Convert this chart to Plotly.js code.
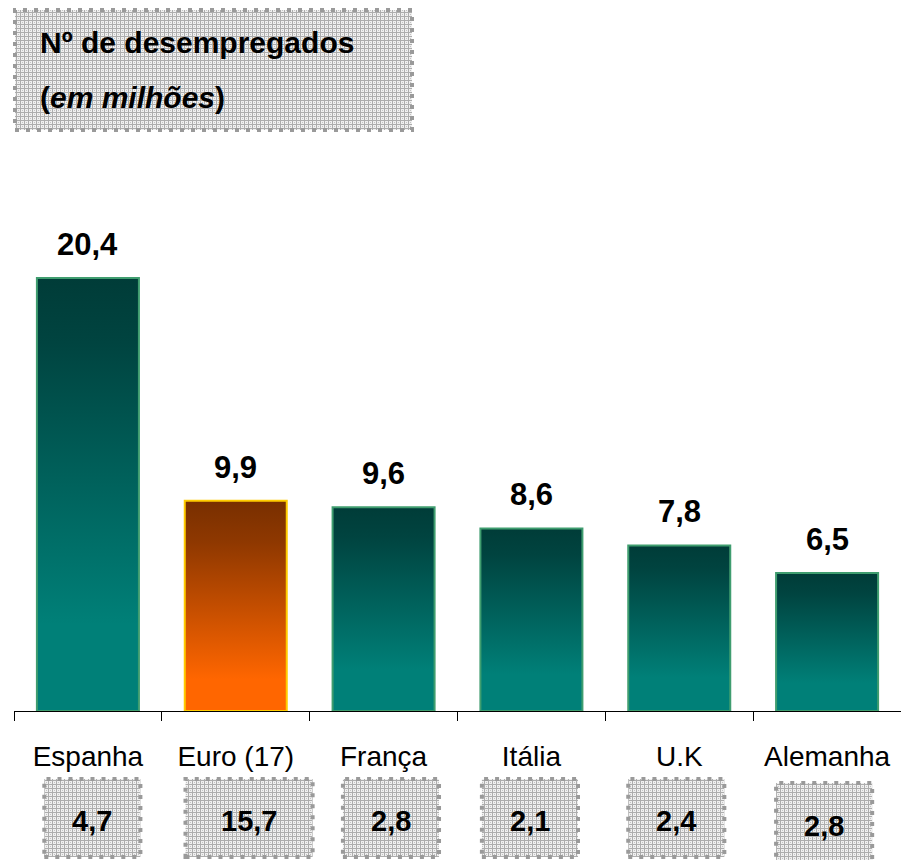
<!DOCTYPE html>
<html><head><meta charset="utf-8">
<script src="https://cdn.plot.ly/plotly-3.0.1.min.js"></script>
<style>html,body{margin:0;padding:0;background:#fff}#chart{width:901px;height:860px}</style>
</head><body><div id="chart"></div>
<script>
// ---- data ----
const paises = ['Espanha', 'Euro (17)', 'França', 'Itália', 'U.K', 'Alemanha'];
const taxaDesemprego = [20.4, 9.9, 9.6, 8.6, 7.8, 6.5];          // bar values (%)
const desempregadosMilhoes = [4.7, 15.7, 2.8, 2.1, 2.4, 2.8];    // boxed values (millions)
const tituloLinha1 = 'Nº de desempregados';
const tituloLinha2 = 'em milhões';
const destaque = 'Euro (17)';

// ---- layout helpers (pixel -> paper) ----
const W = 901, H = 860, ML = 14, MR = 0, MT = 150, MB = 149;
const PW = W - ML - MR, PH = H - MT - MB;
const px = x => (x - ML) / PW;
const py = y => (H - MB - y) / PH;
const fmt = v => v.toFixed(1).replace('.', ',');
const FONT = 'Liberation Sans, Arial, sans-serif';

const isHi = paises.map(p => p === destaque);

const trace = {
  type: 'bar',
  x: paises,
  y: taxaDesemprego,
  marker: {
    color: isHi.map(h => h ? '#ff6600' : '#008080'),
    line: { color: isHi.map(h => h ? '#ffcc00' : '#3f9d6f'), width: 2 }
  },
  hoverinfo: 'none'
};

const annotations = [];
// bar value labels
paises.forEach((p, i) => {
  annotations.push({
    x: p, y: taxaDesemprego[i], xref: 'x', yref: 'y',
    text: fmt(taxaDesemprego[i]), showarrow: false,
    yanchor: 'bottom', yshift: 14,
    font: { family: FONT, size: 31, color: '#000', weight: 700 }
  });
});
// boxed values
const boxHalf = paises.map(p => p === destaque ? 0.43 : 0.325);
const boxOff = [0.03, 0.09, 0.05, -0.01, -0.02, -0.02];
const boxTop = [779, 779, 779, 779, 779, 783];
const boxBot = [857, 857, 857, 857, 857, 862];
const shapes = [];
paises.forEach((p, i) => {
  const c = i + 0.5 + boxOff[i];
  shapes.push({
    type: 'rect', xref: 'paper', yref: 'paper',
    x0: (c - boxHalf[i]) / 6, x1: (c + boxHalf[i]) / 6,
    y0: py(boxBot[i]), y1: py(boxTop[i]),
    fillcolor: '#d6d6d6',
    line: { color: '#9a9a9a', width: 4, dash: '4px,7px' }
  });
  annotations.push({
    x: c / 6, y: py((boxTop[i] + boxBot[i]) / 2 + 3), xref: 'paper', yref: 'paper',
    text: fmt(desempregadosMilhoes[i]), showarrow: false,
    xanchor: 'center', yanchor: 'middle',
    font: { family: FONT, size: 29, color: '#000', weight: 700 }
  });
});
// title box
shapes.push({
  type: 'rect', xref: 'paper', yref: 'paper',
  x0: px(15), x1: px(412), y0: py(130), y1: py(10),
  fillcolor: '#d6d6d6',
  line: { color: '#9a9a9a', width: 4, dash: '4px,7px' }
});
annotations.push({
  x: px(38), y: py(42.5), xref: 'paper', yref: 'paper', xanchor: 'left', yanchor: 'middle',
  text: tituloLinha1, showarrow: false,
  font: { family: FONT, size: 30, color: '#000', weight: 700 }
});
annotations.push({
  x: px(38), y: py(97.5), xref: 'paper', yref: 'paper', xanchor: 'left', yanchor: 'middle',
  text: '(<i>' + tituloLinha2 + '</i>)', showarrow: false,
  font: { family: FONT, size: 30, color: '#000', weight: 700 }
});

const layout = {
  width: W, height: H,
  margin: { l: ML, r: MR, t: MT, b: MB, pad: 0 },
  paper_bgcolor: '#fff', plot_bgcolor: '#fff',
  showlegend: false,
  bargap: 0.31,
  xaxis: {
    type: 'category', showline: true, linecolor: '#000', linewidth: 1,
    ticks: 'outside', tickson: 'boundaries', ticklen: 9, tickcolor: '#000', tickwidth: 1,
    tickfont: { family: FONT, size: 28, color: '#000' },
    ticklabelstandoff: 20,
    showgrid: false, zeroline: false, fixedrange: true
  },
  yaxis: { range: [0, 26.43], visible: false, fixedrange: true },
  shapes: shapes,
  annotations: annotations
};

const gd = document.getElementById('chart');
const SVGNS = 'http://www.w3.org/2000/svg';
function mkGrad(defs, id, stops) {
  if (defs.querySelector('#' + id)) return;
  const g = document.createElementNS(SVGNS, 'linearGradient');
  g.setAttribute('id', id);
  g.setAttribute('x1', '0'); g.setAttribute('y1', '0');
  g.setAttribute('x2', '0'); g.setAttribute('y2', '1');
  stops.forEach(([o, c]) => {
    const s = document.createElementNS(SVGNS, 'stop');
    s.setAttribute('offset', o); s.setAttribute('stop-color', c);
    g.appendChild(s);
  });
  defs.appendChild(g);
}
function mkPattern(defs) {
  if (defs.querySelector('#dotpat')) return;
  const p = document.createElementNS(SVGNS, 'pattern');
  p.setAttribute('id', 'dotpat'); p.setAttribute('patternUnits', 'userSpaceOnUse');
  p.setAttribute('width', '4'); p.setAttribute('height', '4');
  const r = (x, y, w, h, c) => {
    const e = document.createElementNS(SVGNS, 'rect');
    e.setAttribute('x', x); e.setAttribute('y', y); e.setAttribute('width', w); e.setAttribute('height', h);
    e.setAttribute('fill', c); p.appendChild(e);
  };
  r(0, 0, 4, 4, '#f0f0f0');
  r(0, 0, 4, 1, '#adadad');
  r(0, 0, 1, 4, '#adadad');
  r(2, 2, 1, 1, '#c4c4c4');
  defs.appendChild(p);
}
function style() {
  const svg = gd.querySelector('svg.main-svg');
  let defs = svg.querySelector('defs');
  if (!defs) { defs = document.createElementNS(SVGNS, 'defs'); svg.insertBefore(defs, svg.firstChild); }
  mkGrad(defs, 'gTeal', [['0', '#003c38'], ['0.15', '#004440'], ['0.8', '#008078'], ['1', '#008078']]);
  mkGrad(defs, 'gOrange', [['0', '#782f00'], ['0.2', '#8f3800'], ['0.85', '#ff6600'], ['1', '#ff6600']]);
  mkPattern(defs);
  gd.querySelectorAll('.barlayer .point path').forEach((path, i) => {
    path.style.fill = isHi[i] ? 'url(#gOrange)' : 'url(#gTeal)';
  });
  gd.querySelectorAll('.layer-above .shapelayer path').forEach(path => {
    path.style.fill = 'url(#dotpat)';
    path.style.fillOpacity = '1';
  });
}
Plotly.newPlot(gd, [trace], layout, { staticPlot: true, displayModeBar: false }).then(() => {
  style();
  gd.on && gd.on('plotly_afterplot', style);
});
</script>
</body></html>
